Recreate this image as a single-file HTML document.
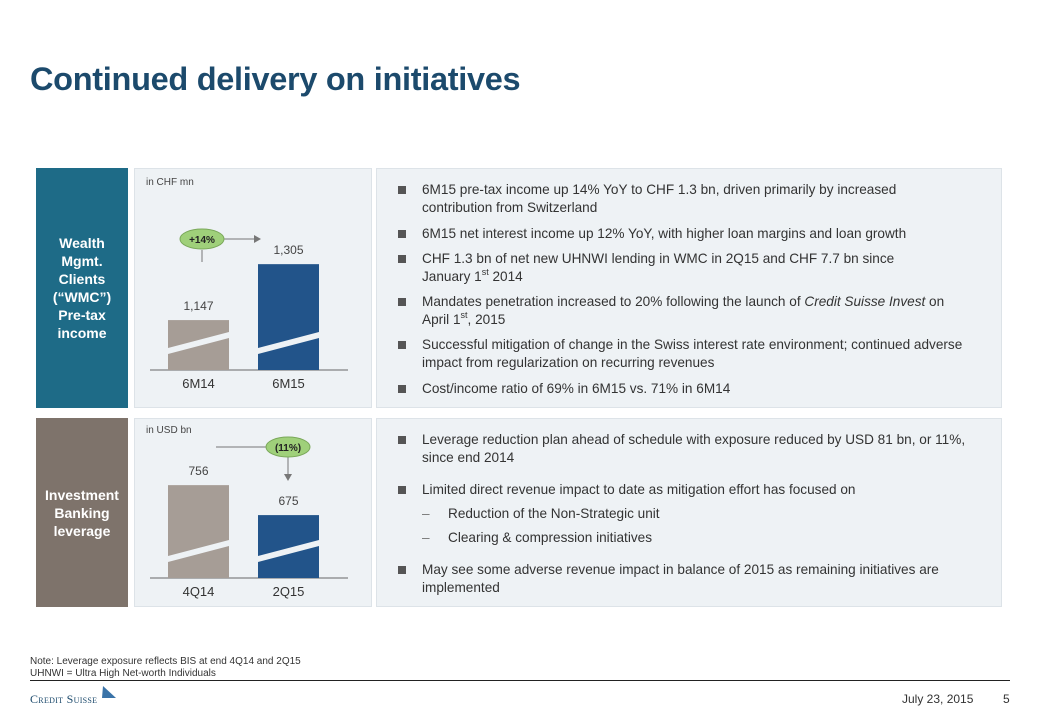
<!DOCTYPE html>
<html><head><meta charset="utf-8"><style>
*{margin:0;padding:0;box-sizing:border-box}
body{width:1040px;height:720px;background:#fff;font-family:"Liberation Sans",sans-serif;position:relative;overflow:hidden;color:#333}
.abs{position:absolute}
h1{position:absolute;left:30px;top:61px;font-size:32.5px;color:#1c4a6c;font-weight:bold;letter-spacing:-0.3px}
.lab{position:absolute;left:36px;width:92px;color:#fff;font-weight:bold;font-size:14px;line-height:18px;text-align:center;display:flex;align-items:center;justify-content:center}
.panel{position:absolute;background:#eef2f5;border:1px solid #dde3e8}
.txt{position:absolute;font-size:14px;line-height:18px;color:#333}
.b{position:absolute;left:422px;font-size:13.6px;line-height:18px;width:570px;white-space:nowrap}
.b:before{content:"";position:absolute;left:-24px;top:5px;width:8px;height:8px;background:#555}
.d{position:absolute;left:448px;font-size:13.6px;line-height:18px}
.d:before{content:"–";position:absolute;left:-26px;color:#777}
sup{font-size:9px;line-height:0;vertical-align:6px}
</style></head><body>
<h1>Continued delivery on initiatives</h1>

<div class="lab" style="top:168px;height:240px;background:#1e6b87">Wealth<br>Mgmt.<br>Clients<br>(“WMC”)<br>Pre-tax<br>income</div>
<div class="lab" style="top:418px;height:189px;background:#7e736b">Investment<br>Banking<br>leverage</div>

<div class="panel" style="left:134px;top:168px;width:238px;height:240px"></div>
<div class="panel" style="left:134px;top:418px;width:238px;height:189px"></div>
<div class="panel" style="left:376px;top:168px;width:626px;height:240px"></div>
<div class="panel" style="left:376px;top:418px;width:626px;height:189px"></div>

<svg class="abs" style="left:0;top:0" width="1040" height="720" id="charts"></svg>

<div class="b" style="top:181px">6M15 pre-tax income up 14% YoY to CHF 1.3 bn, driven primarily by increased<br>contribution from Switzerland</div>
<div class="b" style="top:225px">6M15 net interest income up 12% YoY, with higher loan margins and loan growth</div>
<div class="b" style="top:250px">CHF 1.3 bn of net new UHNWI lending in WMC in 2Q15 and CHF 7.7 bn since<br>January 1<sup>st</sup> 2014</div>
<div class="b" style="top:293px">Mandates penetration increased to 20% following the launch of <i>Credit Suisse Invest</i> on<br>April 1<sup>st</sup>, 2015</div>
<div class="b" style="top:336px">Successful mitigation of change in the Swiss interest rate environment; continued adverse<br>impact from regularization on recurring revenues</div>
<div class="b" style="top:380px">Cost/income ratio of 69% in 6M15 vs. 71% in 6M14</div>

<div class="b" style="top:431px">Leverage reduction plan ahead of schedule with exposure reduced by USD 81 bn, or 11%,<br>since end 2014</div>
<div class="b" style="top:481px">Limited direct revenue impact to date as mitigation effort has focused on</div>
<div class="d" style="top:505px">Reduction of the Non-Strategic unit</div>
<div class="d" style="top:529px">Clearing &amp; compression initiatives</div>
<div class="b" style="top:561px">May see some adverse revenue impact in balance of 2015 as remaining initiatives are<br>implemented</div>

<div class="txt" style="left:30px;top:656px;font-size:10px;line-height:12px">Note: Leverage exposure reflects BIS at end 4Q14 and 2Q15<br>UHNWI = Ultra High Net-worth Individuals</div>
<div class="abs" style="left:30px;top:680px;width:980px;height:1px;background:#222"></div>
<div class="abs" style="left:30px;top:692px;font-family:'Liberation Serif',serif;font-size:12px;color:#1c4a6c;font-variant:small-caps;letter-spacing:0.3px">Credit Suisse</div>
<svg class="abs" style="left:100px;top:686px" width="18" height="14"><path d="M3 0 L16 12 L2 12 Z" fill="#3a73a8"/></svg>
<div class="txt" style="left:902px;top:690px;font-size:12px">July 23, 2015</div>
<div class="txt" style="left:1003px;top:690px;font-size:12px">5</div>

<script>
const wmcCats=["6M14","6M15"];
const wmcVals=[1147,1305];
const wmcLabels=["1,147","1,305"];
const ibCats=["4Q14","2Q15"];
const ibVals=[756,675];
const ibLabels=["756","675"];
const svg=document.getElementById('charts');
const NS='http://www.w3.org/2000/svg';
function mk(t,a,txt){const e=document.createElementNS(NS,t);for(const k in a)e.setAttribute(k,a[k]);if(txt!==undefined)e.textContent=txt;svg.appendChild(e);return e;}
function chart(cats,vals,labels,base,v0,k,unit,unitY,prefix){
  const xs=[168,258];const colors=['#a69d96','#22548a'];
  mk('line',{x1:150,y1:base,x2:348,y2:base,stroke:'#666','stroke-width':1});
  let t=mk('text',{x:146,y:unitY,'font-size':10,fill:'#444','font-family':'Liberation Sans'},unit);
  
  vals.forEach((v,i)=>{
    const h=(v-v0)*k;const x=xs[i],w=61,y=base-h;
    const r=mk('rect',{x:x,y:y,width:w,height:h,fill:colors[i]});
    
    mk('polygon',{points:`${x},${base-22} ${x+w},${base-38} ${x+w},${base-32} ${x},${base-16}`,fill:'#eef2f5'});
    const l=mk('text',{x:x+w/2,y:y-10,'font-size':12,fill:'#444','text-anchor':'middle','font-family':'Liberation Sans'},labels[i]);
    
    const c=mk('text',{x:x+w/2,y:base+18,'font-size':13,fill:'#333','text-anchor':'middle','font-family':'Liberation Sans'},cats[i]);
    
  });
}
chart(wmcCats,wmcVals,wmcLabels,370,1006,0.354,'in CHF mn',185,'wmc');
chart(ibCats,ibVals,ibLabels,578,505,0.37,'in USD bn',433,'ib');
mk('line',{x1:202,y1:250,x2:202,y2:262,stroke:'#777'});
mk('line',{x1:224,y1:239,x2:254,y2:239,stroke:'#777'});
mk('polygon',{points:'254,235 261,239 254,243',fill:'#777'});
let e=mk('ellipse',{cx:202,cy:239,rx:22,ry:10,fill:'#9fd07a',stroke:'#7aa85a'});

mk('text',{x:202,y:243,'font-size':10,'font-weight':'bold',fill:'#222','text-anchor':'middle','font-family':'Liberation Sans'},'+14%');
mk('line',{x1:216,y1:447,x2:266,y2:447,stroke:'#777'});
mk('line',{x1:288,y1:457,x2:288,y2:474,stroke:'#777'});
mk('polygon',{points:'284,474 292,474 288,481',fill:'#777'});
e=mk('ellipse',{cx:288,cy:447,rx:22,ry:10,fill:'#9fd07a',stroke:'#7aa85a'});

mk('text',{x:288,y:451,'font-size':10,'font-weight':'bold',fill:'#222','text-anchor':'middle','font-family':'Liberation Sans'},'(11%)');
</script>
</body></html>
